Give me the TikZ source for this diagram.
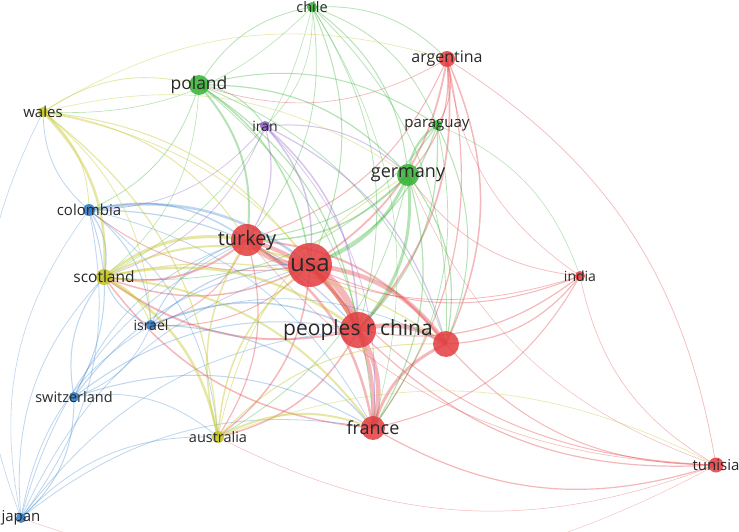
\documentclass[tikz,border=0pt]{standalone}
\usepackage{fontspec}
\setmainfont{Open Sans}
\begin{document}
\begin{tikzpicture}[x=1pt,y=-1pt]
\definecolor{cred}{RGB}{228,60,64}
\definecolor{cgreen}{RGB}{52,178,52}
\definecolor{cblue}{RGB}{40,120,200}
\definecolor{cyellow}{RGB}{196,196,30}
\definecolor{cpurple}{RGB}{140,90,200}
\definecolor{labelgray}{RGB}{40,40,40}
\tikzset{
  er/.style={draw=cred, draw opacity=0.36},
  eg/.style={draw=cgreen, draw opacity=0.36},
  eb/.style={draw=cblue, draw opacity=0.3},
  ey/.style={draw=cyellow, draw opacity=0.4},
  ep/.style={draw=cpurple, draw opacity=0.34},
  vn/.style={circle, inner sep=0pt, fill opacity=0.85, draw=none},
  lbl/.style={text=labelgray, inner sep=0pt, anchor=center},
}
\fill[white] (0,0) rectangle (739,532);
\useasboundingbox (0,0) rectangle (739,532);
% node centres
\foreach \n/\x/\y in {chile/312/7, argentina/447/59, poland/199/85, wales/43/112,
  iran/265/126, paraguay/437/125, germany/408/175, colombia/89/210,
  turkey/247/240, usa/310/265, india/580/276, scotland/104/277,
  israel/151/325, china/358/330, xred/446/344, switzerland/74/397,
  australia/218/437, france/373/428, tunisia/716/465, japan/21/518}
  \coordinate (\n) at (\x,\y);
% connectors
\foreach \a/\b/\w/\s in {
  usa/china/7/er, usa/turkey/5/er, usa/france/4/er, usa/xred/4.5/er,
  china/xred/4.5/er, china/france/4.5/er, turkey/china/4/er, turkey/france/2.5/er,
  turkey/xred/2/er, france/xred/3/er,
  argentina/usa/1.8/er, argentina/china/1.8/er, argentina/xred/1.5/er,
  argentina/germany/1.2/er, argentina/france/1.2/er, argentina/turkey/1/er,
  argentina/tunisia/0.7/er, argentina/poland/0.7/er, argentina/paraguay/1/er,
  india/usa/1/er, india/china/1.2/er, india/xred/1.2/er, india/france/1/er,
  india/turkey/0.8/er, india/germany/0.7/er, india/argentina/0.6/er,
  tunisia/china/1.2/er, tunisia/france/1.2/er, tunisia/xred/1/er, tunisia/usa/1/er,
  tunisia/india/0.6/er, tunisia/turkey/0.6/er, tunisia/australia/0.5/er,
  tunisia/germany/0.5/er, tunisia/japan/0.4/er,
  usa/colombia/1/er, usa/scotland/1.5/er, china/australia/1.5/er, usa/israel/1/er,
  turkey/scotland/2/er, turkey/australia/1.2/er, france/scotland/1.5/er,
  china/scotland/2/er, usa/australia/1.5/er, turkey/israel/1/er,
  poland/usa/1.5/eg, poland/turkey/2/eg, poland/china/1.2/eg, poland/germany/1.2/eg,
  poland/iran/1/eg, poland/paraguay/1/eg, poland/chile/0.8/eg, poland/france/0.8/eg,
  poland/colombia/0.8/eg, poland/xred/0.8/eg, poland/scotland/0.6/eg,
  chile/germany/1/eg, chile/usa/1/eg, chile/paraguay/0.8/eg, chile/china/0.8/eg,
  chile/turkey/0.8/eg, chile/argentina/0.8/eg, chile/xred/0.8/eg, chile/france/0.6/eg,
  chile/wales/0.6/eg, chile/scotland/0.6/eg, chile/iran/0.6/eg,
  germany/usa/3/eg, germany/china/3/eg, germany/turkey/1.5/eg, germany/paraguay/2.2/eg,
  germany/france/1.2/eg, germany/xred/1.2/eg, germany/scotland/0.8/eg, germany/australia/0.8/eg,
  paraguay/usa/1.2/eg, paraguay/china/1.2/eg, paraguay/turkey/1/eg,
  paraguay/xred/1/eg, paraguay/france/0.8/eg, paraguay/india/0.6/eg,
  iran/usa/1.5/ep, iran/turkey/1.2/ep, iran/china/1.5/ep, iran/xred/1.2/ep,
  iran/germany/1/ep, iran/france/0.8/ep, iran/colombia/0.8/ep, iran/scotland/0.8/ep,
  colombia/usa/2.5/eb, colombia/turkey/1.5/eb, colombia/china/1.2/eb, colombia/scotland/1.2/eb,
  colombia/israel/1/eb, colombia/switzerland/1/eb, colombia/japan/0.8/eb,
  colombia/wales/0.8/eb, colombia/france/0.8/eb, colombia/australia/0.8/eb,
  israel/usa/1.2/eb, israel/china/1.5/eb, israel/turkey/1/eb, israel/france/1.2/eb,
  israel/scotland/1/eb, israel/switzerland/0.8/eb, israel/xred/0.8/eb,
  switzerland/japan/1/eb, switzerland/usa/1/eb, switzerland/china/1/eb,
  switzerland/france/1/eb, switzerland/scotland/1/eb, switzerland/turkey/0.8/eb,
  switzerland/australia/0.8/eb,
  japan/usa/0.8/eb, japan/china/0.8/eb, japan/france/0.8/eb, japan/australia/0.8/eb,
  japan/scotland/0.8/eb, japan/turkey/0.8/eb, japan/israel/0.8/eb, japan/colombia/0.6/eb,
  japan/wales/0.6/eb,
  wales/scotland/2.5/ey, wales/usa/1/ey, wales/turkey/1/ey, wales/china/0.8/ey,
  wales/australia/1.2/ey, wales/poland/0.8/ey, wales/colombia/0.8/ey, wales/israel/0.8/ey,
  wales/germany/0.6/ey, wales/argentina/0.6/ey,
  scotland/turkey/3/ey, scotland/china/2.5/ey, scotland/australia/2.5/ey,
  scotland/france/2/ey, scotland/xred/1.2/ey, scotland/israel/1/ey, scotland/usa/2/ey,
  australia/usa/1.5/ey, australia/france/2/ey, australia/turkey/1.5/ey,
  australia/xred/1/ey, australia/tunisia/0.6/ey, australia/germany/0.8/ey}
  \draw[\s, line width=\w pt] (\a) to[bend left=24] (\b);
% nodes
\foreach \n/\d/\c in {chile/10/cgreen, argentina/16/cred, poland/20/cgreen,
  wales/10/cyellow, iran/10/cpurple, paraguay/10/cgreen, germany/22/cgreen,
  colombia/12/cblue, turkey/32/cred, usa/44/cred, india/10/cred,
  scotland/16/cyellow, israel/10/cblue, china/36/cred, xred/26/cred,
  switzerland/10/cblue, australia/12/cyellow, france/24/cred,
  tunisia/15/cred, japan/10/cblue}
  \node[vn, fill=\c, minimum size=\d pt] (\n-dot) at (\n) {};
% labels
\foreach \n/\t/\f in {chile/chile/14.5, argentina/argentina/16, poland/poland/17.5,
  wales/wales/15, iran/iran/14, paraguay/paraguay/15, germany/germany/18,
  colombia/colombia/15, turkey/turkey/20, usa/usa/24, india/india/14,
  scotland/scotland/15.5, israel/israel/14, china/peoples r china/21,
  switzerland/switzerland/14.5, australia/australia/14.5, france/france/18,
  tunisia/tunisia/15, japan/japan/15}
  \node[lbl, font=\fontsize{\f}{\f}\selectfont] (\n-lbl) at (\n) {\t};
\end{tikzpicture}
\end{document}
